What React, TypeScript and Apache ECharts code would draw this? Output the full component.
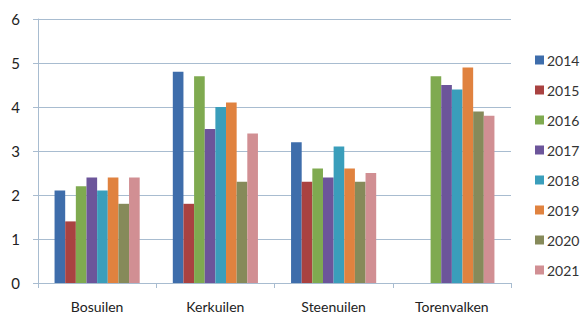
import React, { useEffect, useRef } from "react";
import * as echarts from "echarts";

const categories = ["Bosuilen", "Kerkuilen", "Steenuilen", "Torenvalken"];
const years = ["2014", "2015", "2016", "2017", "2018", "2019", "2020", "2021"];
const v2014 = [2.1, 4.8, 3.2, null];
const v2015 = [1.4, 1.8, 2.3, null];
const v2016 = [2.2, 4.7, 2.6, 4.7];
const v2017 = [2.4, 3.5, 2.4, 4.5];
const v2018 = [2.1, 4.0, 3.1, 4.4];
const v2019 = [2.4, 4.1, 2.6, 4.9];
const v2020 = [1.8, 2.3, 2.3, 3.9];
const v2021 = [2.4, 3.4, 2.5, 3.8];
const seriesValues = [v2014, v2015, v2016, v2017, v2018, v2019, v2020, v2021];
const colors = ["#3E6DAB", "#A94241", "#7FAA50", "#6C559A", "#3A9EBB", "#E0823F", "#868A5A", "#D18F93"];
const yTicks = [0, 1, 2, 3, 4, 5, 6];

export default function App() {
  const ref = useRef<HTMLDivElement>(null);
  useEffect(() => {
    const chart = echarts.init(ref.current!, null, { renderer: "svg" });
    const font = "Lato, 'Open Sans', sans-serif";
    chart.setOption({
      animation: false,
      color: colors,
      grid: { left: 38, right: 77, top: 19, bottom: 26, containLabel: false },
      legend: {
        orient: "vertical",
        left: 535,
        top: 52,
        padding: 0,
        itemWidth: 9,
        itemHeight: 9,
        itemGap: 14,
        icon: "rect",
        data: years,
        textStyle: { fontSize: 14, lineHeight: 16, color: "#333", fontFamily: font, padding: [0, 0, 0, -2] },
      },
      xAxis: {
        type: "category",
        data: categories,
        axisLine: { show: true, lineStyle: { color: "#A8BCD0", width: 1 } },
        axisTick: { show: true, length: 5, lineStyle: { color: "#A8BCD0" } },
        axisLabel: { fontSize: 14, color: "#222", fontFamily: font, margin: 16 },
      },
      yAxis: {
        type: "value",
        min: yTicks[0],
        max: yTicks[yTicks.length - 1],
        interval: 1,
        axisLine: { show: true, lineStyle: { color: "#A8BCD0", width: 1 } },
        axisTick: { show: true, length: 5, lineStyle: { color: "#A8BCD0" } },
        splitLine: { show: true, lineStyle: { color: "#A8BCD0", width: 1 } },
        axisLabel: { fontSize: 15, color: "#222", fontFamily: font, margin: 18 },
      },
      series: years.map((y, i) => ({
        name: y,
        type: "bar",
        data: seriesValues[i],
        barGap: "0%",
        barCategoryGap: "28%",
      })),
    });
    return () => chart.dispose();
  }, []);
  return <div ref={ref} style={{ width: 588, height: 313, position: "absolute", left: 0, top: 0 }} />;
}
